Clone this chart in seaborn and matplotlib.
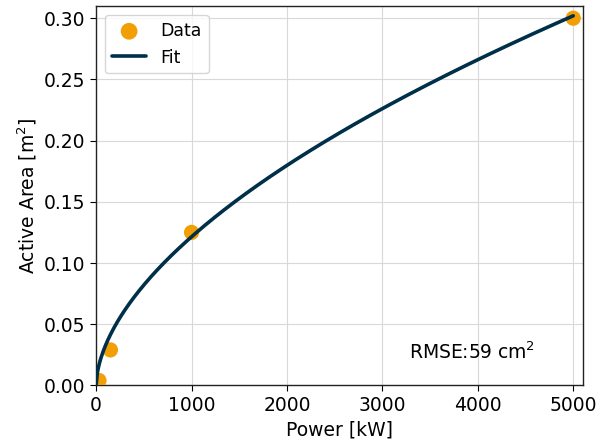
import numpy as np
import pandas as pd
import matplotlib
matplotlib.use("Agg")
import matplotlib.pyplot as plt
import seaborn as sns

# Data
power_kw = [30, 150, 1000, 5000]
area_m2 = [0.004, 0.029, 0.125, 0.300]

# Power-law fit coefficients (area = a * P^b)
fit_a = 0.002434
fit_b = 0.566
rmse_label = "RMSE:59 cm$^2$"

sns.set_style("ticks")
plt.rcParams['font.family'] = ['DejaVu Sans']
plt.rcParams.update({"text.color": "black", "axes.labelcolor": "black",
                     "xtick.color": "black", "ytick.color": "black"})

fig, ax = plt.subplots(figsize=(5.97, 4.43), dpi=100)

df = pd.DataFrame({"Power": power_kw, "Area": area_m2})
fit_x = np.linspace(0, max(power_kw), 400)
fit_df = pd.DataFrame({"Power": fit_x, "Area": fit_a * fit_x ** fit_b})

sns.scatterplot(data=df, x="Power", y="Area", ax=ax, s=120, color="#F29F05",
                edgecolor="none", label="Data", zorder=3)
sns.lineplot(data=fit_df, x="Power", y="Area", ax=ax, color="#003049",
             linewidth=2.6, label="Fit", zorder=4)

ax.set_xlim(0, 5105)
ax.set_ylim(0, 0.3098)
ax.set_xticks([0, 1000, 2000, 3000, 4000, 5000])
ax.set_yticks([0, 0.05, 0.10, 0.15, 0.20, 0.25, 0.30])
ax.set_yticklabels([f"{v:.2f}" for v in [0, 0.05, 0.10, 0.15, 0.20, 0.25, 0.30]])
ax.grid(True, color="#d9d9d9", linewidth=0.8)
ax.set_axisbelow(True)
ax.tick_params(labelsize=13.5, length=4, color="black", labelcolor="black")
for s in ax.spines.values():
    s.set_color("#222222")
    s.set_linewidth(1.0)
ax.set_xlabel("Power [kW]", fontsize=13.5, color="black")
ax.set_ylabel("Active Area [m$^2$]", fontsize=13.5, color="black")
ax.text(0.9, 0.088, rmse_label, transform=ax.transAxes, ha="right", va="center",
        fontsize=13.5, color="black")
leg = ax.legend(loc="upper left", fontsize=12.5, frameon=True, markerscale=1.1)
for t in leg.get_texts():
    t.set_color("black")

fig.subplots_adjust(left=0.161, right=0.977, top=0.986, bottom=0.13)
fig.savefig("out.png", dpi=100)
